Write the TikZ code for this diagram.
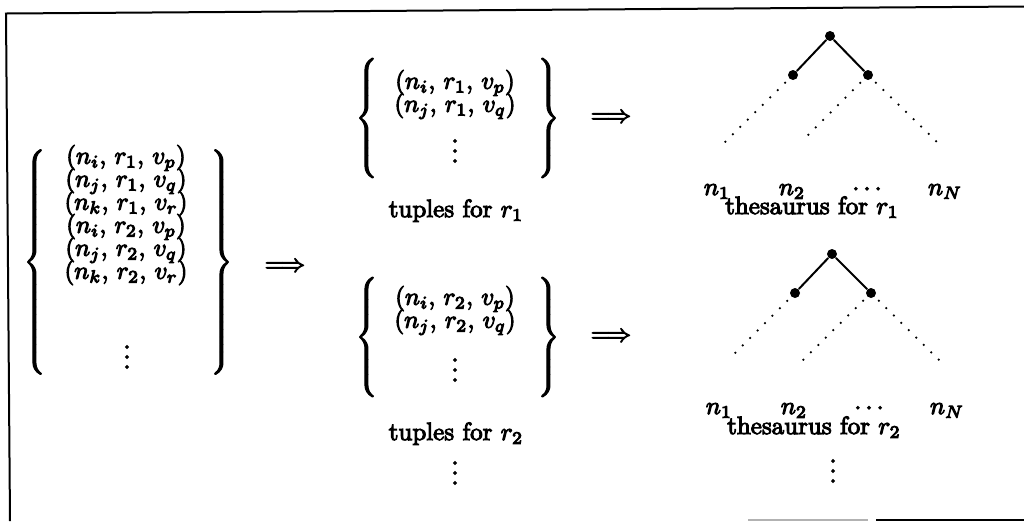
\documentclass[tikz,border=0pt]{standalone}
\newcommand\mylbrace[1]{$\delimitershortfall=0pt\delimiterfactor=1000\left\{\vcenter{\hbox{\rule{0pt}{#1}}}\right.$}
\newcommand\myrbrace[1]{$\delimitershortfall=0pt\delimiterfactor=1000\left.\vcenter{\hbox{\rule{0pt}{#1}}}\right\}$}
\newcommand\myvdots{\vbox{\baselineskip4pt\lineskiplimit0pt\hbox{.}\hbox{.}\hbox{.}}}
\newcommand\inkier{\special{pdf:literal direct 2 Tr 0.4 w}}
\begin{document}
\begin{tikzpicture}[x=0.4pt,y=-0.4pt,
  every node/.append style={execute at begin node=\inkier},
  brc/.style={inner sep=0pt, outer sep=0pt},
  txt/.style={inner sep=0pt, outer sep=0pt},
  rows/.style={inner sep=0pt, outer sep=0pt, align=center, anchor=north},
  tnode/.style={circle, fill=black, inner sep=0pt, minimum size=4pt},
  edge/.style={line width=0.8pt},
  dotline/.style={line width=1pt, line cap=round, dash pattern=on 0pt off 4.2pt, dash phase=2pt},
  frame/.style={line width=0.8pt}]
\useasboundingbox (0,0) rectangle (1024,521);
% frame
\coordinate (fA) at (10,521);
\coordinate (fB) at (6,13.5);
\coordinate (fC) at (1024,6.5);
\draw[frame] (fA) -- (fB) -- (fC);
\coordinate (gA) at (748,519.5);
\coordinate (gB) at (868,519.5);
\coordinate (gC) at (876,519.5);
\coordinate (gD) at (1024,519.5);
\draw[frame, gray!60] (gA) -- (gB);
\draw[frame] (gC) -- (gD);

% left group
\node[brc] (lbL) at (36,262) {\mylbrace{90pt}};
\node[brc] (rbL) at (220,262) {\myrbrace{90pt}};
\node[rows] (aR) at (126,145) {$(n_i,\,r_1,\,v_p)$\\[-2.8pt]
  $(n_j,\,r_1,\,v_q)$\\[-2.8pt]
  $(n_k,\,r_1,\,v_r)$\\[-2.8pt]
  $(n_i,\,r_2,\,v_p)$\\[-2.8pt]
  $(n_j,\,r_2,\,v_q)$\\[-2.8pt]
  $(n_k,\,r_2,\,v_r)$};
\node[txt] (av) at (127,357) {\myvdots};
\node[txt] (arL) at (285,267) {$\Longrightarrow$};

% middle top group
\node[brc] (lbA) at (368,118) {\mylbrace{44pt}};
\node[brc] (rbA) at (547,118) {\myrbrace{44pt}};
\node[rows] (bR) at (455,70) {$(n_i,\,r_1,\,v_p)$\\[-2.8pt]
  $(n_j,\,r_1,\,v_q)$};
\node[txt] (bv) at (455,151) {\myvdots};
\node[txt] (arA) at (611,118) {$\Longrightarrow$};
\node[txt, anchor=base] (tA) at (456,217) {tuples for $r_1$};

% middle bottom group
\node[brc] (lbB) at (368,337) {\mylbrace{44pt}};
\node[brc] (rbB) at (547,337) {\myrbrace{44pt}};
\node[rows] (cR) at (455,286) {$(n_i,\,r_2,\,v_p)$\\[-2.8pt]
  $(n_j,\,r_2,\,v_q)$};
\node[txt] (cv) at (455,370) {\myvdots};
\node[txt] (arB) at (611,337) {$\Longrightarrow$};
\node[txt, anchor=base] (tB) at (456,440) {tuples for $r_2$};
\node[txt] (tBv) at (455,473) {\myvdots};

% top tree
\node[tnode] (rA) at (830,36) {};
\node[tnode] (lA) at (793,75) {};
\node[tnode] (kA) at (868,75) {};
\coordinate (eA1) at (725,142);
\coordinate (eA2) at (801,142);
\coordinate (eA3) at (937,142);
\draw[edge] (rA) -- (lA);
\draw[edge] (rA) -- (kA);
\draw[dotline] (lA) -- (eA1);
\draw[dotline] (kA) -- (eA2);
\draw[dotline] (kA) -- (eA3);
\node[txt, anchor=base] (nA1) at (717,195) {$n_1$};
\node[txt, anchor=base] (nA2) at (792,195) {$n_2$};
\node[txt, anchor=base] (nA3) at (867,195) {$\cdots$};
\node[txt, anchor=base] (nA4) at (945,195) {$n_N$};
\node[txt, anchor=base] (thA) at (812,214) {thesaurus for $r_1$};

% bottom tree
\node[tnode] (rB) at (832,254) {};
\node[tnode] (lB) at (795,293) {};
\node[tnode] (kB) at (871,293) {};
\coordinate (eB1) at (728,360);
\coordinate (eB2) at (803,360);
\coordinate (eB3) at (939,360);
\draw[edge] (rB) -- (lB);
\draw[edge] (rB) -- (kB);
\draw[dotline] (lB) -- (eB1);
\draw[dotline] (kB) -- (eB2);
\draw[dotline] (kB) -- (eB3);
\node[txt, anchor=base] (nB1) at (719,414) {$n_1$};
\node[txt, anchor=base] (nB2) at (794,414) {$n_2$};
\node[txt, anchor=base] (nB3) at (869,414) {$\cdots$};
\node[txt, anchor=base] (nB4) at (947,414) {$n_N$};
\node[txt, anchor=base] (thB) at (814,434) {thesaurus for $r_2$};
\node[txt] (thBv) at (833,471) {\myvdots};
\end{tikzpicture}
\end{document}
